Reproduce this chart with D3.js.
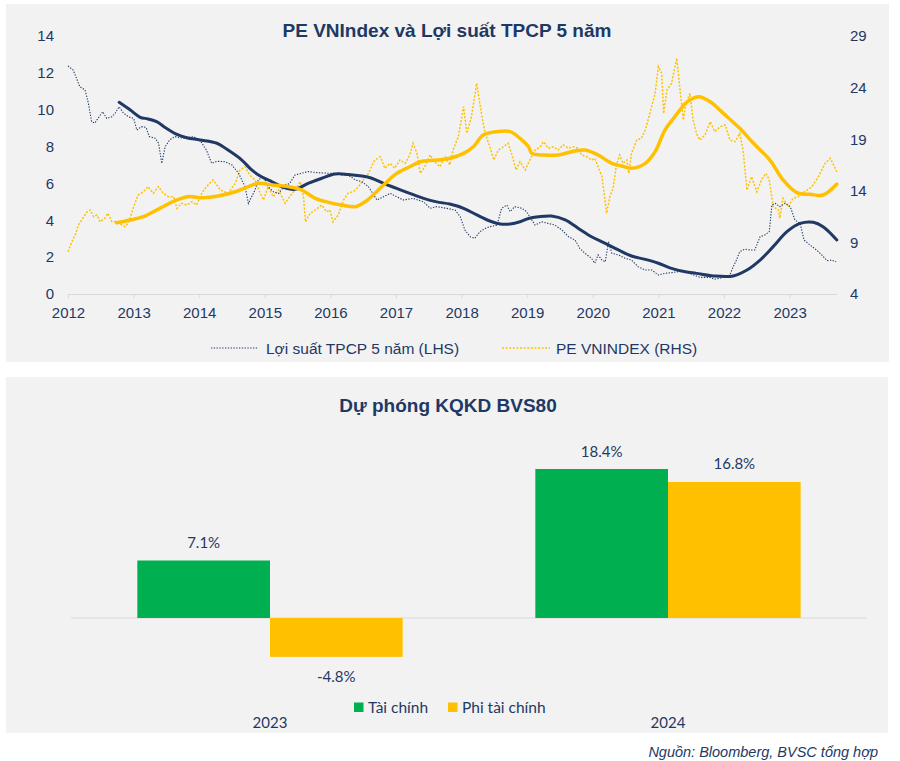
<!DOCTYPE html>
<html>
<head>
<meta charset="utf-8">
<script src="https://cdn.jsdelivr.net/npm/d3@7"></script>
<style>
  html, body { margin: 0; padding: 0; background: #ffffff; }
  svg { display: block; }
</style>
</head>
<body>
<svg id="chart" width="900" height="761"></svg>
<script>
// ---------------- DATA: chart 1 ----------------
const yearTicks = [2012, 2013, 2014, 2015, 2016, 2017, 2018, 2019, 2020, 2021, 2022, 2023];
const leftTicks = [0, 2, 4, 6, 8, 10, 12, 14];
const rightTicks = [4, 9, 14, 19, 24, 29];

// Lợi suất TPCP 5 năm (LHS), dotted
const yieldT = [2012.00,2012.08,2012.18,2012.26,2012.31,2012.36,2012.41,2012.46,2012.53,2012.59,2012.67,2012.72,2012.78,2012.84,2012.92,
  2013.00,2013.05,2013.12,2013.19,2013.24,2013.33,2013.38,2013.43,2013.48,2013.55,2013.63,2013.76,2013.91,
  2014.01,2014.11,2014.19,2014.27,2014.39,2014.50,2014.60,2014.70,2014.75,2014.80,2014.85,2014.90,2014.98,
  2015.05,2015.13,2015.21,2015.31,2015.38,2015.46,2015.56,2015.66,2015.82,2015.97,
  2016.07,2016.17,2016.27,2016.38,2016.48,2016.58,2016.71,2016.81,2016.91,
  2017.01,2017.11,2017.26,2017.42,2017.52,2017.62,2017.77,2017.90,2017.98,
  2018.05,2018.13,2018.20,2018.28,2018.36,2018.43,2018.54,2018.61,2018.69,2018.74,2018.81,2018.92,2018.99,
  2019.07,2019.12,2019.22,2019.32,2019.42,2019.53,2019.63,2019.73,2019.80,2019.88,2019.98,
  2020.03,2020.08,2020.14,2020.19,2020.24,2020.29,2020.39,2020.49,2020.59,2020.69,2020.80,2020.90,
  2021.00,2021.10,2021.20,2021.30,2021.41,2021.48,2021.63,2021.79,2021.86,2021.99,
  2022.09,2022.14,2022.19,2022.24,2022.32,2022.40,2022.47,2022.55,2022.62,2022.69,2022.73,2022.78,2022.85,2022.93,
  2023.01,2023.08,2023.16,2023.22,2023.31,2023.41,2023.49,2023.57,2023.64,2023.71];
const yieldV = [12.37,12.15,11.25,11.07,10.36,9.35,9.28,9.55,9.89,9.53,9.62,9.82,10.16,9.84,9.62,
  9.53,8.9,9.08,9.04,8.54,8.45,8.18,7.09,7.99,8.36,8.54,8.45,8.54,
  8.36,7.81,7.09,7.2,7.18,7.0,6.55,5.82,4.92,5.28,5.64,6.19,6.36,
  5.82,5.55,5.46,5.91,6.0,6.46,6.55,6.64,6.58,6.55,
  6.55,6.46,6.46,6.19,6.09,5.82,5.1,5.28,5.46,
  5.28,5.1,5.19,5.0,4.65,4.74,4.65,4.56,4.19,
  3.47,3.11,3.02,3.38,3.56,3.65,3.74,4.65,4.83,4.47,4.74,4.65,4.47,
  4.02,3.74,3.92,3.83,3.74,3.47,3.11,2.93,2.48,2.21,1.94,
  1.67,2.12,1.84,1.75,2.84,2.21,2.12,1.94,1.84,1.48,1.30,1.30,
  1.03,1.12,1.16,1.21,1.21,1.12,0.9,0.9,0.8,0.9,
  1.03,1.48,1.84,2.3,2.43,2.39,2.39,3.11,3.2,3.38,4.83,4.92,4.74,4.92,
  4.74,4.02,3.83,2.93,2.66,2.39,2.12,1.81,1.84,1.75];

// Lợi suất – moving average (solid navy)
const yieldMaT = [2012.78,2012.95,2013.10,2013.22,2013.35,2013.50,2013.66,2013.81,2014.01,2014.27,2014.44,2014.65,2014.80,2014.95,
  2015.11,2015.26,2015.46,2015.66,2015.87,2016.07,2016.27,2016.48,2016.63,2016.81,2017.01,2017.21,2017.42,2017.62,2017.82,
  2018.03,2018.23,2018.43,2018.59,2018.74,2018.89,2019.02,2019.17,2019.37,2019.58,2019.78,2019.98,2020.19,2020.39,2020.59,
  2020.80,2021.00,2021.20,2021.41,2021.58,2021.84,2022.14,2022.35,2022.55,2022.75,2022.96,2023.16,2023.36,2023.51,2023.72];
const yieldMaV = [10.4,9.98,9.59,9.5,9.35,8.99,8.66,8.48,8.36,8.18,7.81,7.27,6.73,6.36,
  6.09,5.82,5.68,6.0,6.28,6.51,6.49,6.4,6.28,6.0,5.73,5.46,5.19,5.0,4.88,
  4.65,4.29,3.96,3.8,3.8,3.92,4.1,4.19,4.23,4.02,3.56,3.11,2.75,2.39,2.06,
  1.88,1.67,1.39,1.21,1.12,0.98,0.98,1.30,1.84,2.57,3.38,3.83,3.89,3.65,2.93];

// PE VNINDEX (RHS), dotted
const peT = [2012.00,2012.06,2012.11,2012.16,2012.21,2012.29,2012.34,2012.39,2012.44,2012.49,2012.56,2012.61,2012.67,2012.74,2012.82,2012.87,2012.92,2012.97,
  2013.02,2013.07,2013.15,2013.22,2013.30,2013.38,2013.45,2013.53,2013.61,2013.66,2013.73,2013.81,2013.89,2013.96,
  2014.04,2014.11,2014.21,2014.29,2014.32,2014.44,2014.55,2014.62,2014.70,2014.77,2014.85,2014.93,2014.98,
  2015.05,2015.13,2015.21,2015.31,2015.38,2015.46,2015.54,2015.59,2015.62,2015.69,2015.77,2015.87,2015.94,2015.99,
  2016.04,2016.12,2016.20,2016.27,2016.35,2016.43,2016.50,2016.58,2016.65,2016.68,2016.76,2016.83,2016.91,2016.98,
  2017.06,2017.14,2017.21,2017.26,2017.32,2017.37,2017.44,2017.52,2017.59,2017.67,2017.75,2017.82,2017.87,2017.95,
  2018.03,2018.08,2018.15,2018.23,2018.31,2018.36,2018.43,2018.49,2018.56,2018.64,2018.71,2018.76,2018.83,2018.89,2018.97,
  2019.04,2019.12,2019.20,2019.25,2019.32,2019.40,2019.47,2019.55,2019.63,2019.70,2019.78,2019.83,2019.91,2019.98,
  2020.03,2020.08,2020.14,2020.21,2020.26,2020.31,2020.36,2020.41,2020.46,2020.52,2020.55,2020.59,2020.67,2020.74,2020.80,2020.87,2020.95,
  2021.00,2021.05,2021.08,2021.13,2021.20,2021.28,2021.33,2021.38,2021.41,2021.48,2021.53,2021.58,2021.63,2021.71,2021.79,2021.86,2021.94,
  2022.02,2022.09,2022.17,2022.24,2022.29,2022.35,2022.42,2022.50,2022.57,2022.64,2022.69,2022.75,2022.83,2022.85,2022.90,2022.98,
  2023.05,2023.13,2023.23,2023.34,2023.44,2023.54,2023.62,2023.66,2023.72];
const peV = [8.1,9.07,9.72,10.69,11.17,11.97,12.14,11.49,11.66,11.0,11.33,11.82,11.0,11.0,10.69,10.52,10.85,11.82,
  12.79,13.59,13.91,14.4,13.76,14.4,13.76,13.43,13.43,12.3,12.79,12.62,12.94,12.62,
  13.76,14.4,15.05,14.4,14.08,13.76,14.73,16.0,16.33,15.53,15.05,13.76,13.11,
  14.4,13.43,14.08,12.79,13.43,14.08,14.88,13.43,11.0,11.82,12.14,12.62,11.97,12.14,
  11.0,11.66,13.11,13.76,13.91,14.4,15.05,15.69,16.66,16.98,17.3,16.18,16.66,16.18,
  16.98,16.66,17.47,18.6,17.63,15.69,16.33,17.47,16.82,16.33,17.3,16.5,17.95,19.24,
  22.15,19.57,21.18,24.41,21.18,19.57,18.27,16.98,17.95,18.27,18.6,17.63,16.02,16.82,16.02,
  16.98,17.95,18.27,18.76,18.12,18.27,17.95,18.44,18.12,18.27,18.12,17.47,17.3,16.98,
  17.15,16.33,15.37,11.82,13.43,14.24,16.5,17.47,16.66,16.98,15.69,17.63,18.92,19.08,19.89,21.5,23.45,
  26.03,25.39,21.5,23.77,24.41,26.84,23.77,20.86,22.15,23.45,20.86,19.57,18.92,19.4,20.69,19.73,20.21,
  20.38,18.92,18.76,19.57,17.95,14.08,15.37,13.91,15.05,15.69,15.05,12.46,12.14,11.33,13.27,12.46,
  13.27,13.43,13.91,14.4,15.37,16.66,17.15,16.66,15.85];

// PE – moving average (solid yellow)
const peMaT = [2012.74,2012.95,2013.15,2013.40,2013.66,2013.83,2014.06,2014.29,2014.55,2014.75,2014.90,
  2015.11,2015.36,2015.56,2015.77,2015.97,2016.17,2016.38,2016.53,2016.62,2016.81,
  2017.01,2017.21,2017.37,2017.62,2017.82,2018.03,2018.18,2018.33,2018.54,2018.74,2018.89,
  2019.02,2019.07,2019.27,2019.47,2019.68,2019.88,2020.08,2020.29,2020.44,2020.59,2020.80,2020.95,
  2021.10,2021.25,2021.41,2021.48,2021.61,2021.79,2021.99,2022.24,2022.45,2022.70,2022.90,
  2023.11,2023.31,2023.51,2023.72];
const peMaV = [10.9,11.17,11.49,12.3,13.11,13.43,13.33,13.5,13.91,14.4,14.73,
  14.56,14.4,14.08,13.27,12.88,12.62,12.46,12.94,13.4,14.56,
  15.69,16.33,16.82,16.98,17.15,17.63,18.27,19.4,19.73,19.73,19.08,
  18.27,17.63,17.47,17.47,17.79,17.95,17.47,16.66,16.4,16.18,16.66,17.79,
  19.89,21.18,22.47,22.8,23.12,22.63,21.5,20.05,18.6,16.98,15.05,
  13.82,13.66,13.59,14.66];

// ---------------- DATA: chart 2 ----------------
const barCategories = ["2023", "2024"];
const barSeries = ["Tài chính", "Phi tài chính"];
const taiChinh = [7.1, 18.4];
const phiTaiChinh = [-4.8, 16.8];
const barLabels = [["7.1%", "18.4%"], ["-4.8%", "16.8%"]];

// ---------------- STYLE ----------------
const NAVY = "#1f3864";
const YELLOW = "#ffc000";
const GREEN = "#00b050";
const PANEL = "#f2f2f2";
const GRID = "#d9d9d9";

const svg = d3.select("#chart");

// panels
svg.append("rect").attr("x", 6).attr("y", 4).attr("width", 883).attr("height", 358).attr("fill", PANEL);
svg.append("rect").attr("x", 6).attr("y", 377).attr("width", 882).attr("height", 356).attr("fill", PANEL);

// ================= CHART 1 =================
const x = d3.scaleLinear().domain([2012, 2023.75]).range([68, 68 + 11.75 * 65.6]);
const yL = d3.scaleLinear().domain([0, 14]).range([294, 36]);
const yR = d3.scaleLinear().domain([4, 29]).range([294, 36]);

const g1 = svg.append("g");

g1.append("text")
  .attr("x", 447).attr("y", 37)
  .attr("text-anchor", "middle")
  .attr("font-family", "Liberation Sans, Arial, sans-serif")
  .attr("font-weight", "bold").attr("font-size", 19)
  .attr("fill", NAVY)
  .text("PE VNIndex và Lợi suất TPCP 5 năm");

// x axis
const xAxis = g1.append("g")
  .attr("transform", "translate(0,294)")
  .call(d3.axisBottom(x).tickValues(yearTicks).tickFormat(d3.format("d")).tickSizeInner(4).tickSizeOuter(0).tickPadding(9));
xAxis.select(".domain").attr("stroke", GRID).attr("d", `M${x(2012)},0.5H${x(2023.72)}`);
xAxis.selectAll(".tick line").attr("stroke", GRID);
xAxis.selectAll(".tick text")
  .attr("font-family", "Liberation Sans, Arial, sans-serif").attr("font-size", 15).attr("fill", NAVY);

// left axis
const lAxis = g1.append("g")
  .attr("transform", "translate(54,0)")
  .call(d3.axisLeft(yL).tickValues(leftTicks).tickSize(0).tickPadding(0));
lAxis.select(".domain").remove();
lAxis.selectAll(".tick text")
  .attr("font-family", "Liberation Sans, Arial, sans-serif").attr("font-size", 15).attr("fill", NAVY);

// right axis
const rAxis = g1.append("g")
  .attr("transform", "translate(850,0)")
  .call(d3.axisRight(yR).tickValues(rightTicks).tickSize(0).tickPadding(0));
rAxis.select(".domain").remove();
rAxis.selectAll(".tick text")
  .attr("font-family", "Liberation Sans, Arial, sans-serif").attr("font-size", 15).attr("fill", NAVY);

// lines
const lineL = d3.line().x(d => x(d[0])).y(d => yL(d[1]));
const lineR = d3.line().x(d => x(d[0])).y(d => yR(d[1]));
const smoothL = d3.line().x(d => x(d[0])).y(d => yL(d[1])).curve(d3.curveCatmullRom.alpha(0.5));
const smoothR = d3.line().x(d => x(d[0])).y(d => yR(d[1])).curve(d3.curveCatmullRom.alpha(0.5));

const zip = (a, b) => a.map((t, i) => [t, b[i]]);

g1.append("path").datum(zip(peT, peV))
  .attr("d", lineR).attr("fill", "none").attr("stroke", YELLOW)
  .attr("stroke-width", 1.5).attr("stroke-dasharray", "2,1.6");

g1.append("path").datum(zip(yieldT, yieldV))
  .attr("d", lineL).attr("fill", "none").attr("stroke", NAVY)
  .attr("stroke-width", 1.1).attr("stroke-dasharray", "1.3,1.5");

g1.append("path").datum(zip(yieldMaT, yieldMaV))
  .attr("d", smoothL).attr("fill", "none").attr("stroke", NAVY)
  .attr("stroke-width", 3).attr("stroke-linecap", "round");

g1.append("path").datum(zip(peMaT, peMaV))
  .attr("d", smoothR).attr("fill", "none").attr("stroke", YELLOW)
  .attr("stroke-width", 3.5).attr("stroke-linecap", "round");

// legend chart 1
const leg1 = g1.append("g").attr("font-family", "Liberation Sans, Arial, sans-serif").attr("font-size", 15.5).attr("fill", NAVY);
leg1.append("line").attr("x1", 211).attr("x2", 258).attr("y1", 348).attr("y2", 348)
  .attr("stroke", NAVY).attr("stroke-width", 1.1).attr("stroke-dasharray", "1.3,1.5");
leg1.append("text").attr("x", 266).attr("y", 353.5).text("Lợi suất TPCP 5 năm (LHS)");
leg1.append("line").attr("x1", 502).attr("x2", 550).attr("y1", 348).attr("y2", 348)
  .attr("stroke", YELLOW).attr("stroke-width", 1.5).attr("stroke-dasharray", "2,1.6");
leg1.append("text").attr("x", 556).attr("y", 353.5).text("PE VNINDEX (RHS)");

// ================= CHART 2 =================
const g2 = svg.append("g");
const BFONT = "Lato, 'Open Sans', sans-serif";

g2.append("text")
  .attr("x", 448).attr("y", 412)
  .attr("text-anchor", "middle")
  .attr("font-family", "'Liberation Sans Narrow', 'Arial Narrow', 'Liberation Sans', sans-serif")
  .attr("font-weight", "bold").attr("font-size", 19)
  .attr("fill", NAVY)
  .text("Dự phóng KQKD BVS80");

const x0 = d3.scaleBand().domain(barCategories).range([71, 867]).paddingInner(1 / 3).paddingOuter(1 / 6);
const x1 = d3.scaleBand().domain(barSeries).range([0, x0.bandwidth()]);
const yB = d3.scaleLinear().domain([0, 18.4]).range([618, 469]);

const seriesVals = [taiChinh, phiTaiChinh];
const seriesCol = [GREEN, YELLOW];

// zero line
g2.append("line").attr("x1", 71).attr("x2", 867).attr("y1", yB(0)).attr("y2", yB(0))
  .attr("stroke", GRID).attr("stroke-width", 1.2);

barSeries.forEach((s, si) => {
  barCategories.forEach((c, ci) => {
    const v = seriesVals[si][ci];
    const bx = x0(c) + x1(s);
    g2.append("rect")
      .attr("x", bx).attr("width", x1.bandwidth())
      .attr("y", Math.min(yB(v), yB(0)))
      .attr("height", Math.abs(yB(v) - yB(0)))
      .attr("fill", seriesCol[si]);
    g2.append("text")
      .attr("x", bx + x1.bandwidth() / 2)
      .attr("y", v >= 0 ? yB(v) - 12.5 : yB(v) + 25.5)
      .attr("text-anchor", "middle")
      .attr("font-family", BFONT).attr("font-size", 15).attr("fill", NAVY)
      .text(barLabels[si][ci]);
  });
});

// category labels
barCategories.forEach(c => {
  g2.append("text")
    .attr("x", x0(c) + x0.bandwidth() / 2).attr("y", 728)
    .attr("text-anchor", "middle")
    .attr("font-family", BFONT).attr("font-size", 15).attr("fill", NAVY)
    .text(c);
});

// legend chart 2
const legX = [354, 448];
barSeries.forEach((s, i) => {
  g2.append("rect").attr("x", legX[i]).attr("y", 702.5).attr("width", 9.5).attr("height", 9.5).attr("fill", seriesCol[i]);
  g2.append("text").attr("x", legX[i] + 14).attr("y", 713)
    .attr("font-family", BFONT).attr("font-size", 15.5).attr("fill", NAVY).text(s);
});

// source
svg.append("text")
  .attr("x", 878).attr("y", 757)
  .attr("text-anchor", "end")
  .attr("font-family", "Liberation Sans, Arial, sans-serif")
  .attr("font-style", "italic").attr("font-size", 14.5)
  .attr("fill", NAVY)
  .text("Nguồn: Bloomberg, BVSC tổng hợp");
</script>
</body>
</html>
